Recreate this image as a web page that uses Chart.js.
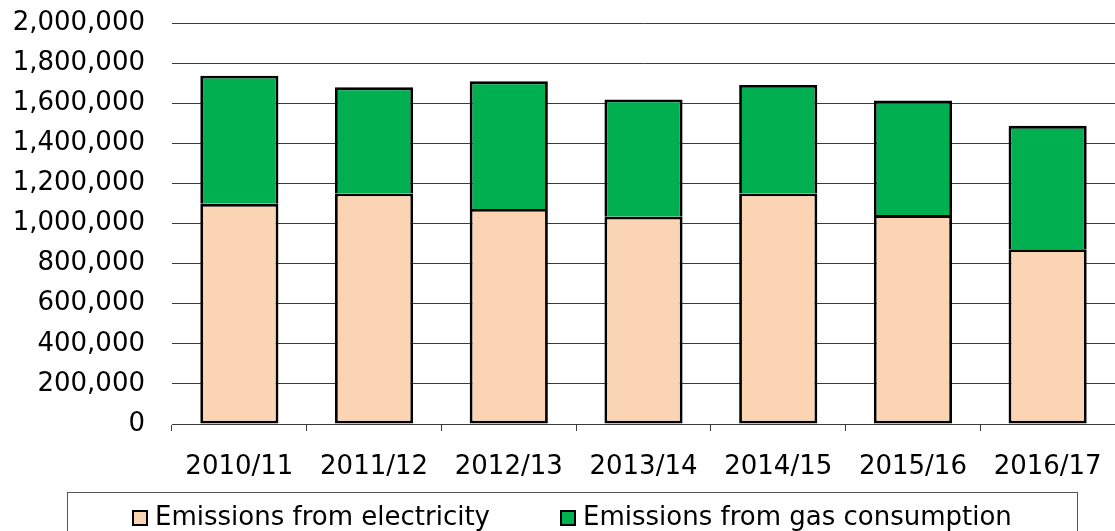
<!DOCTYPE html>
<html lang="en">
<head>
    <meta charset="UTF-8">
    <title>Emissions</title>
    <script src="https://cdn.jsdelivr.net/npm/chart.js"></script>
    <style>
        html, body { margin: 0; padding: 0; background: #fff; }
        #wrap { width: 1115px; height: 531px; }
    </style>
</head>
<body>
    <div id="wrap"><canvas id="emissionsChart"></canvas></div>

    <script>
        // Data
        const categories = ['2010/11', '2011/12', '2012/13', '2013/14', '2014/15', '2015/16', '2016/17'];
        const electricity = [1098000, 1150000, 1072000, 1034000, 1150000, 1042000, 872000];
        const gas = [639000, 529000, 637000, 585000, 541000, 571000, 615000];
        const seriesNames = ['Emissions from electricity', 'Emissions from gas consumption'];
        const yMax = 2000000;
        const yStep = 200000;

        const FONT = 'DejaVu Sans';
        const gridColor = '#3c3c3c';

        // legend drawn in a box below the axis, like the original
        const boxLegend = {
            id: 'boxLegend',
            afterDraw(chart) {
                const ctx = chart.ctx;
                ctx.save();
                ctx.strokeStyle = '#555';
                ctx.lineWidth = 1;
                ctx.strokeRect(67.5, 492.5, 1010, 60);
                const xs = [132, 560];
                ctx.font = '26px "' + FONT + '"';
                ctx.textBaseline = 'middle';
                chart.data.datasets.forEach((ds, i) => {
                    ctx.fillStyle = ds.backgroundColor;
                    ctx.fillRect(xs[i], 510, 16, 16);
                    ctx.strokeStyle = '#000';
                    ctx.lineWidth = 2;
                    ctx.strokeRect(xs[i] + 1, 511, 14, 14);
                    ctx.fillStyle = '#000';
                    ctx.fillText(ds.label, xs[i] + 23, 518);
                });
                ctx.restore();
            }
        };

        const ctx = document.getElementById('emissionsChart').getContext('2d');
        new Chart(ctx, {
            type: 'bar',
            data: {
                labels: categories,
                datasets: [
                    {
                        label: seriesNames[0],
                        data: electricity,
                        backgroundColor: '#FBD4B4',
                        borderColor: '#000',
                        borderWidth: 2.8,
                        borderSkipped: false
                    },
                    {
                        label: seriesNames[1],
                        data: gas,
                        backgroundColor: '#00B050',
                        borderColor: '#000',
                        borderWidth: 2.8,
                        borderSkipped: 'bottom'
                    }
                ]
            },
            options: {
                responsive: true,
                maintainAspectRatio: false,
                animation: false,
                categoryPercentage: 1,
                barPercentage: 0.58,
                layout: {
                    padding: { top: 23, right: 0, bottom: 53, left: 0 }
                },
                plugins: {
                    legend: { display: false },
                    tooltip: { enabled: false }
                },
                scales: {
                    x: {
                        stacked: true,
                        afterFit(s) { s.height = 54; },
                        grid: {
                            drawOnChartArea: false,
                            drawTicks: true,
                            tickLength: 7,
                            color: gridColor
                        },
                        border: { display: true, color: gridColor, width: 1 },
                        ticks: {
                            color: '#000',
                            padding: 0,
                            maxRotation: 0,
                            font: { family: FONT, size: 26, lineHeight: 2.8 }
                        }
                    },
                    y: {
                        stacked: true,
                        min: 0,
                        max: yMax,
                        afterFit(s) { s.width = 172; },
                        grid: {
                            color: gridColor,
                            drawTicks: true,
                            tickLength: 27,
                            tickColor: 'rgba(0,0,0,0)'
                        },
                        border: { display: false },
                        ticks: {
                            stepSize: yStep,
                            color: '#000',
                            padding: 0,
                            font: { family: FONT, size: 26 },
                            callback: v => v.toLocaleString('en-US')
                        }
                    }
                }
            },
            plugins: [boxLegend]
        });
    </script>
</body>
</html>
